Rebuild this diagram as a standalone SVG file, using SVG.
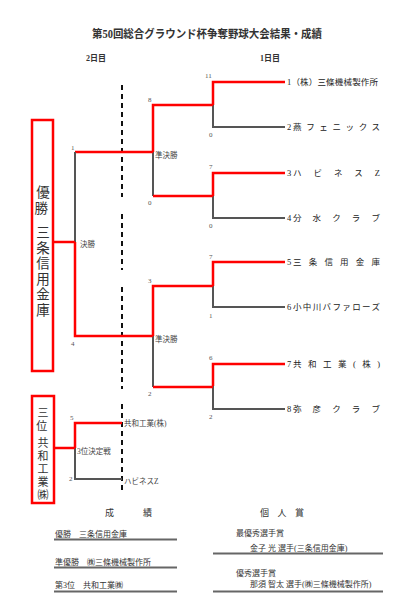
<svg xmlns="http://www.w3.org/2000/svg" width="400" height="608" viewBox="0 0 400 608">
<style>
text{font-family:"Liberation Serif","Noto Sans CJK JP",serif;fill:#333}
.r{stroke:#ff0000;stroke-width:2.5;fill:none}
.g{stroke:#555;stroke-width:2;fill:none}
.d{stroke:#111;stroke-width:2;stroke-dasharray:5,4;fill:none}
.box{stroke:#ff0000;stroke-width:2.5;fill:#fff}
.sc{font-size:7px;fill:#555}
.tm{font-size:8.5px;fill:#222}
.lb{font-size:7.5px;fill:#444}
.vt{text-anchor:middle;dominant-baseline:central}
.ul{stroke:#666;stroke-width:2}
.sm{font-size:8px;fill:#333}
</style>
<rect width="400" height="608" fill="#fff"/>
<g id="title">
<text x="207" y="38" text-anchor="middle" font-size="11.5" font-weight="bold" textLength="230" lengthAdjust="spacingAndGlyphs" fill="#111">第50回総合グラウンド杯争奪野球大会結果・成績</text>
<text x="86" y="61" font-size="8" font-weight="bold" fill="#222">2日目</text>
<text x="260" y="61" font-size="8" font-weight="bold" fill="#222">1日目</text>
</g>
<g id="connectors">
<line class="d" x1="122" y1="85" x2="122" y2="197"/>
<line class="d" x1="122" y1="214" x2="122" y2="270"/>
<line class="d" x1="122" y1="287" x2="122" y2="389"/>
<line class="d" x1="122" y1="404" x2="122" y2="491"/>
<polyline class="r" points="285,82 213,82 213,105"/>
<polyline class="g" points="213,105 213,127 285,127"/>
<polyline class="r" points="285,173 213,173 213,196"/>
<polyline class="g" points="213,196 213,218 285,218"/>
<polyline class="r" points="285,262 213,262 213,286"/>
<polyline class="g" points="213,286 213,307 285,307"/>
<polyline class="r" points="285,364 213,364 213,386"/>
<polyline class="g" points="213,386 213,409 285,409"/>
<polyline class="r" points="213,105 153,105 153,152"/>
<polyline class="g" points="153,152 153,196"/>
<line class="r" x1="153" y1="196" x2="213" y2="196"/>
<polyline class="r" points="213,286 153,286 153,336"/>
<polyline class="g" points="153,336 153,387"/>
<line class="r" x1="153" y1="387" x2="213" y2="387"/>
<line class="r" x1="75" y1="152" x2="153" y2="152"/>
<polyline class="g" points="75,152 75,242"/>
<polyline class="r" points="75,242 75,336 153,336"/>
<line class="r" x1="53" y1="242" x2="75" y2="242"/>
<polyline class="r" points="122,423 75,423 75,448"/>
<polyline class="g" points="75,448 75,479 122,479"/>
<line class="r" x1="54" y1="448" x2="75" y2="448"/>
</g>
<g id="scores">
<text class="sc" x="205" y="78">11</text>
<text class="sc" x="209" y="137">0</text>
<text class="sc" x="209" y="169">7</text>
<text class="sc" x="209" y="228">0</text>
<text class="sc" x="209" y="259">7</text>
<text class="sc" x="209" y="318">1</text>
<text class="sc" x="209" y="360">6</text>
<text class="sc" x="209" y="419">2</text>
<text class="sc" x="148" y="102">8</text>
<text class="sc" x="148" y="205">0</text>
<text class="sc" x="148" y="283">3</text>
<text class="sc" x="148" y="396">2</text>
<text class="sc" x="71" y="150">1</text>
<text class="sc" x="71" y="346">4</text>
<text class="sc" x="70" y="420">5</text>
<text class="sc" x="69" y="481">2</text>
<text class="lb" x="155" y="158">準決勝</text>
<text class="lb" x="155" y="342">準決勝</text>
<text class="lb" x="80" y="247">決勝</text>
<text class="lb" x="77" y="454">3位決定戦</text>
<text class="lb" x="124" y="426">共和工業(株)</text>
<text class="lb" x="124" y="484">ハビネスZ</text>
</g>
<g id="teams">
<text class="tm" x="287" y="85" textLength="91" lengthAdjust="spacing">1（株）三條機械製作所</text>
<text class="tm" x="287" y="130">2</text><text class="tm" x="293" y="130" textLength="87" lengthAdjust="spacing">燕フェニックス</text>
<text class="tm" x="287" y="176">3</text><text class="tm" x="293" y="176" textLength="87" lengthAdjust="spacing">ハビネスZ</text>
<text class="tm" x="287" y="221">4</text><text class="tm" x="293" y="221" textLength="87" lengthAdjust="spacing">分水クラブ</text>
<text class="tm" x="287" y="265">5</text><text class="tm" x="293" y="265" textLength="87" lengthAdjust="spacing">三条信用金庫</text>
<text class="tm" x="287" y="310">6</text><text class="tm" x="293" y="310" textLength="87" lengthAdjust="spacing">小中川バファローズ</text>
<text class="tm" x="287" y="367">7</text><text class="tm" x="293" y="367" textLength="87" lengthAdjust="spacing">共和工業(株)</text>
<text class="tm" x="287" y="412">8</text><text class="tm" x="293" y="412" textLength="87" lengthAdjust="spacing">弥彦クラブ</text>
</g>
<g id="winner">
<rect class="box" x="32" y="120" width="21" height="251"/>
<text class="vt" font-size="13.5" fill="#222">
<tspan x="43" y="192">優</tspan><tspan x="43" y="208">勝</tspan>
<tspan x="43" y="232">三</tspan><tspan x="43" y="248">条</tspan><tspan x="43" y="263">信</tspan><tspan x="43" y="279">用</tspan><tspan x="43" y="294">金</tspan><tspan x="43" y="310">庫</tspan>
</text>
</g>
<g id="third">
<rect class="box" x="32" y="396" width="22" height="107"/>
<text class="vt" font-size="11" fill="#222">
<tspan x="43" y="413">三</tspan><tspan x="43" y="426">位</tspan>
<tspan x="43" y="443">共</tspan><tspan x="43" y="456">和</tspan><tspan x="43" y="469">工</tspan><tspan x="43" y="482">業</tspan><tspan x="43" y="495">㈱</tspan>
</text>
</g>
<g id="results">
<text x="105" y="516" font-size="9" fill="#333">成</text>
<text x="143" y="516" font-size="9" fill="#333">績</text>
<text class="sm" x="55" y="537">優勝　三条信用金庫</text>
<line class="ul" x1="54" y1="539.5" x2="177" y2="539.5"/>
<text class="sm" x="55" y="565">準優勝　㈱三條機械製作所</text>
<line class="ul" x1="54" y1="567.5" x2="177" y2="567.5"/>
<text class="sm" x="55" y="588">第3位　共和工業㈱</text>
<line class="ul" x1="54" y1="591.5" x2="177" y2="591.5"/>
</g>
<g id="awards">
<text x="260" y="516" font-size="9" fill="#333" textLength="44" lengthAdjust="spacing">個人賞</text>
<text class="sm" x="236" y="536">最優秀選手賞</text>
<text class="sm" x="250" y="551">金子 光 選手(三条信用金庫)</text>
<line class="ul" x1="213" y1="553.5" x2="383" y2="553.5"/>
<text class="sm" x="236" y="576">優秀選手賞</text>
<text class="sm" x="250" y="587">那須 智太 選手(㈱三條機械製作所)</text>
<line class="ul" x1="213" y1="591.5" x2="383" y2="591.5"/>
</g>
</svg>
